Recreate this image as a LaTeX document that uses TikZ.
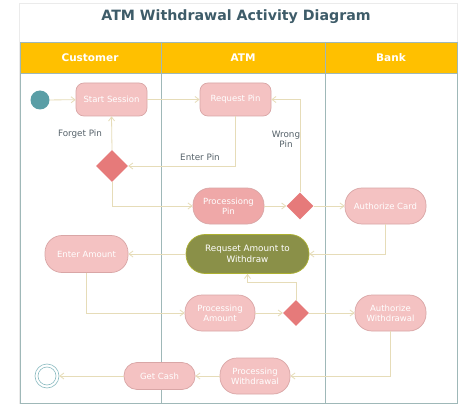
\documentclass[tikz,border=0pt]{standalone}
\usepackage{fontspec}
\setmainfont{DejaVu Sans}
\usetikzlibrary{shapes.geometric,arrows.meta}
\definecolor{titlec}{HTML}{3E5C69}
\definecolor{gold}{HTML}{FFC000}
\definecolor{lane}{HTML}{9FB8B8}
\definecolor{pinkf}{HTML}{F4C2C2}
\definecolor{pinkd}{HTML}{EFA8A8}
\definecolor{pinkb}{HTML}{D9A6A6}
\definecolor{diam}{HTML}{E67A7A}
\definecolor{olive}{HTML}{8A9048}
\definecolor{conn}{HTML}{E6DCB8}
\definecolor{lbl}{HTML}{56626A}
\definecolor{startc}{HTML}{5A9EA6}
\tikzset{
  act/.style={draw=pinkb, fill=pinkf, line width=0.7pt, text=white, font=\fontsize{8.5}{10}\selectfont, align=center, inner sep=0pt},
  boxact/.style={act, rounded corners=8pt},
  pill/.style={act, rounded corners=17pt},
  dec/.style={diamond, fill=diam, draw=none, inner sep=0pt},
  conn/.style={draw=conn, line width=0.8pt, -{Straight Barb[length=4pt,width=6pt]}},
  lbltext/.style={text=lbl, font=\fontsize{8.8}{10}\selectfont, align=center, inner sep=0pt},
  head/.style={text=white, font=\bfseries\fontsize{10.5}{12}\selectfont},
}
\begin{document}
\begin{tikzpicture}[x=1pt,y=-1pt]
\useasboundingbox (0,0) rectangle (474,409);
\fill[white] (0,0) rectangle (474,409);
\draw[black!8, line width=0.5pt] (19,3) rectangle (457,403);
\node[text=titlec, font=\bfseries\fontsize{14.2}{17}\selectfont] (title) at (236,17) {ATM Withdrawal Activity Diagram};
% swimlanes
\fill[gold] (20,42) rectangle (457,73);
\draw[lane, line width=0.8pt] (20,42) rectangle (457,403);
\draw[lane, line width=0.8pt] (20,73) -- (457,73);
\draw[lane, line width=0.8pt] (161,42) -- (161,403);
\draw[lane, line width=0.8pt] (325,42) -- (325,403);
\node[head] (h1) at (90,58) {Customer};
\node[head] (h2) at (243,58) {ATM};
\node[head] (h3) at (391,58) {Bank};
% nodes
\node[circle, fill=startc, minimum size=19pt, inner sep=0pt] (start) at (40,100) {};
\node[boxact, minimum width=71pt, minimum height=33pt] (ss) at (111.5,99.5) {Start Session};
\node[boxact, minimum width=71pt, minimum height=33pt] (rp) at (235.5,99.5) {Request Pin};
\node[dec, minimum size=32pt] (d1) at (112,166) {};
\node[pill, fill=pinkd, minimum width=71pt, minimum height=36pt] (pp) at (228.5,206) {Processiong\\Pin};
\node[dec, minimum size=27pt] (d2) at (300,206) {};
\node[pill, minimum width=81pt, minimum height=36pt] (ac) at (385.5,206) {Authorize Card};
\node[pill, fill=olive, draw=olive!70!yellow, rounded corners=19pt, minimum width=123pt, minimum height=39pt, font=\fontsize{8.8}{10.5}\selectfont] (ra) at (247.5,254) {Requset Amount to\\Withdraw};
\node[pill, minimum width=83pt, minimum height=37pt] (ea) at (86.5,254) {Enter Amount};
\node[pill, minimum width=70pt, minimum height=36pt] (pa) at (220,313) {Processing\\Amount};
\node[dec, minimum size=26pt] (d3) at (296,313) {};
\node[pill, minimum width=71pt, minimum height=36pt] (aw) at (390.5,313) {Authorize\\Withdrawal};
\node[pill, minimum width=70pt, minimum height=36pt] (pw) at (255,376) {Processing\\Withdrawal};
\node[pill, rounded corners=13pt, minimum width=71pt, minimum height=27pt] (gc) at (159.5,376) {Get Cash};
\node[circle, draw=startc!70, line width=0.6pt, minimum size=24pt, inner sep=0pt] (end) at (47,376) {};
\draw[startc!70, line width=0.6pt] (end.center) circle (9pt);
% connectors
\draw[conn] (start) -- (ss);
\draw[conn] (ss) -- (rp);
\draw[conn] (rp.south) |- (d1.east);
\draw[conn] (d1.north) -- (ss.south);
\draw[conn] (d1.south) |- (pp.west);
\draw[conn] (pp.east) -- (d2.west);
\draw[conn] (d2.north) |- (rp.east);
\draw[conn] (d2.east) -- (ac.west);
\draw[conn] (ac.south) |- (ra.east);
\draw[conn] (ra.west) -- (ea.east);
\draw[conn] (ea.south) |- (pa.west);
\draw[conn] (pa.east) -- (d3.west);
\draw[conn] (d3.north) -- (d3.north |- 0,282) -| (ra.south);
\draw[conn] (d3.east) -- (aw.west);
\draw[conn] (aw.south) |- (pw.east);
\draw[conn] (pw.west) -- (gc.east);
\draw[conn] (gc.west) -- (end.east);
% labels
\node[lbltext] (l1) at (80,134) {Forget Pin};
\node[lbltext] (l2) at (200,157) {Enter Pin};
\node[lbltext] (l3) at (286,139) {Wrong\\Pin};
\end{tikzpicture}
\end{document}
